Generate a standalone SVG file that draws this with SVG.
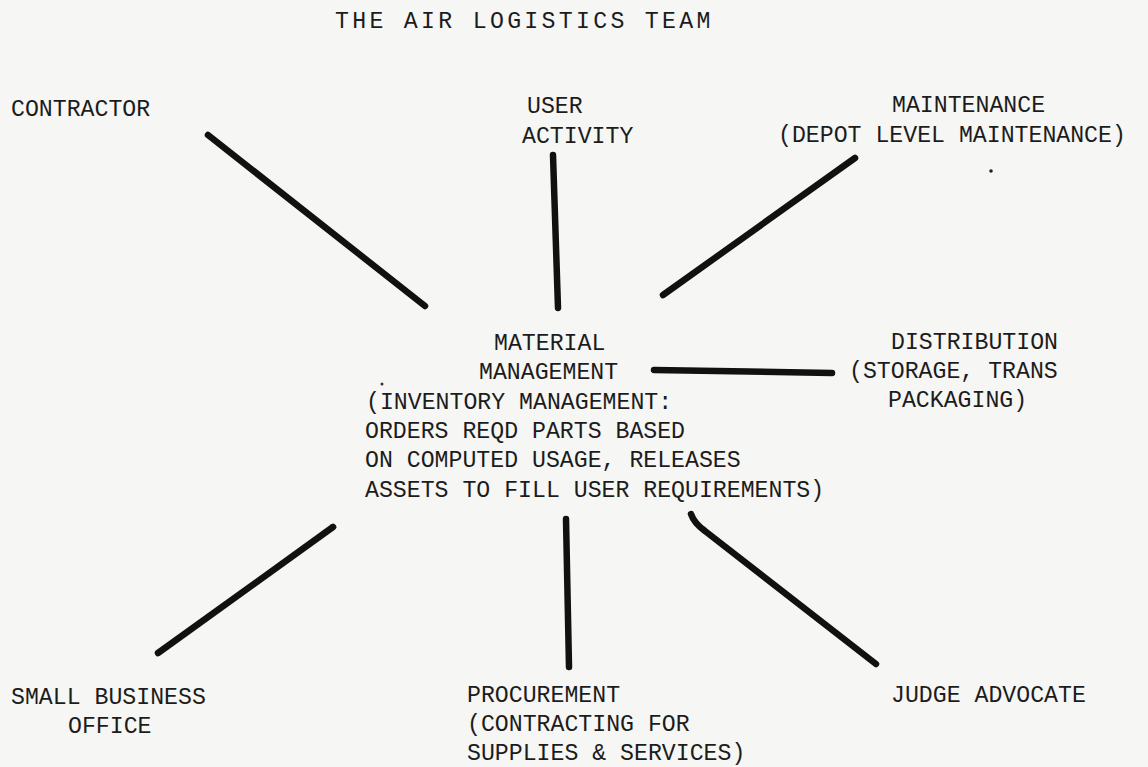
<svg xmlns="http://www.w3.org/2000/svg" width="1148" height="767" viewBox="0 0 1148 767">
<style>
text{font-family:"Liberation Mono","Courier New",monospace;font-size:23.2px;fill:#1c1c1c}
.ln{stroke:#111;stroke-width:6.5;stroke-linecap:round;fill:none}
</style>
<rect width="1148" height="767" fill="#f6f6f4"/>
<g id="title"><text x="335" y="28" letter-spacing="3.3">THE AIR LOGISTICS TEAM</text></g>
<g id="contractor"><text x="11" y="116">CONTRACTOR</text></g>
<g id="user-activity"><text x="527" y="113">USER</text><text x="522" y="143">ACTIVITY</text></g>
<g id="maintenance"><text x="892" y="112">MAINTENANCE</text><text x="778" y="142">(DEPOT LEVEL MAINTENANCE)</text></g>
<circle cx="991" cy="171" r="1.8" fill="#222"/>
<g id="material-management">
<text x="494" y="350">MATERIAL</text>
<text x="479" y="379">MANAGEMENT</text>
<text x="366" y="409">(INVENTORY MANAGEMENT:</text>
<text x="365" y="438">ORDERS REQD PARTS BASED</text>
<text x="365" y="467">ON COMPUTED USAGE, RELEASES</text>
<text x="365" y="497">ASSETS TO FILL USER REQUIREMENTS)</text>
</g>
<circle cx="382" cy="384" r="1.5" fill="#333"/>
<g id="distribution"><text x="891" y="349">DISTRIBUTION</text><text x="849" y="378">(STORAGE, TRANS</text><text x="888" y="407">PACKAGING)</text></g>
<g id="small-business"><text x="11" y="704">SMALL BUSINESS</text><text x="68" y="733">OFFICE</text></g>
<g id="procurement"><text x="467" y="702">PROCUREMENT</text><text x="467" y="731">(CONTRACTING FOR</text><text x="467" y="760">SUPPLIES &amp; SERVICES)</text></g>
<g id="judge-advocate"><text x="891" y="702">JUDGE ADVOCATE</text></g>
<g id="connectors">
<line class="ln" x1="208" y1="135" x2="425" y2="306"/>
<line class="ln" x1="553" y1="155" x2="558" y2="308"/>
<line class="ln" x1="855" y1="158" x2="663" y2="295"/>
<path class="ln" d="M654 370 L832 373" stroke-width="5.5"/>
<line class="ln" x1="333" y1="527" x2="158" y2="653"/>
<line class="ln" x1="566" y1="519" x2="569" y2="667"/>
<path class="ln" d="M691 514 Q694 523 705 531 L876 664"/>
</g>
</svg>
